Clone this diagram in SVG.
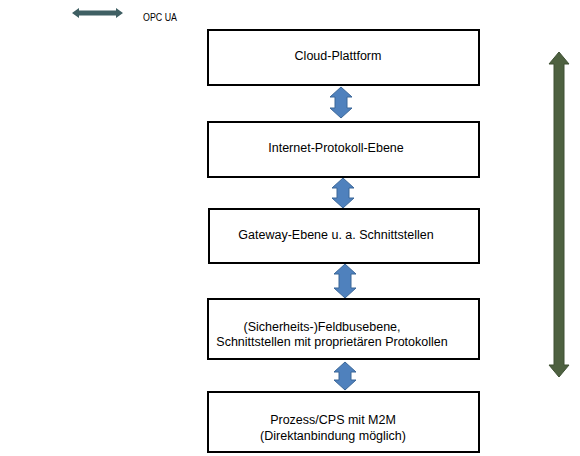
<svg xmlns="http://www.w3.org/2000/svg" width="580" height="456" viewBox="0 0 580 456">
<style>
.box{fill:#fff;stroke:#000;stroke-width:2}
.t{font-family:"Liberation Sans",Arial,sans-serif;font-size:12.5px;fill:#000;text-anchor:middle}
.ba{fill:#4f81bd;stroke:#3b6798;stroke-width:1}
</style>
<rect width="580" height="456" fill="#fff"/>
<g id="legend">
<path d="M72,13 L79,8 L79,10.5 L116,10.5 L116,8 L123,13 L116,18 L116,15.5 L79,15.5 L79,18 Z" fill="#3f5f63"/>
<text x="143" y="21" textLength="34" lengthAdjust="spacingAndGlyphs" style="font-family:'Liberation Sans',Arial,sans-serif;font-size:10px;fill:#000">OPC UA</text>
</g>
<g id="scale-arrow">
<path d="M559,52 L569,64 L564,64 L564,365 L569,365 L559,377 L549,365 L554,365 L554,64 L549,64 Z" fill="#4e6140" stroke="#3e5033" stroke-width="1"/>
</g>
<g id="connectors">
<path class="ba" d="M341,87 L352,97 L347,97 L347,108 L352,108 L341,118 L330,108 L335,108 L335,97 L330,97 Z"/>
<path class="ba" d="M343,178 L354,188 L349,188 L349,198 L354,198 L343,208 L332,198 L337,198 L337,188 L332,188 Z"/>
<path class="ba" d="M345,264 L356,274 L351,274 L351,288 L356,288 L345,298 L334,288 L339,288 L339,274 L334,274 Z"/>
<path class="ba" d="M345,362 L356,372 L351,372 L351,380 L356,380 L345,390 L334,380 L339,380 L339,372 L334,372 Z"/>
</g>
<g id="n1">
<rect class="box" x="208" y="30" width="271" height="55"/>
<text class="t" x="338" y="60">Cloud-Plattform</text>
</g>
<g id="n2">
<rect class="box" x="208" y="122" width="271" height="55"/>
<text class="t" x="336" y="152">Internet-Protokoll-Ebene</text>
</g>
<g id="n3">
<rect class="box" x="209" y="209" width="270" height="54"/>
<text class="t" x="336" y="239">Gateway-Ebene u. a. Schnittstellen</text>
</g>
<g id="n4">
<rect class="box" x="208" y="299" width="271" height="60"/>
<text class="t" x="322" y="331">(Sicherheits-)Feldbusebene,</text>
<text class="t" x="332" y="346">Schnittstellen mit proprietären Protokollen</text>
</g>
<g id="n5">
<rect class="box" x="208" y="392" width="271" height="60"/>
<text class="t" x="333" y="424">Prozess/CPS mit M2M</text>
<text class="t" x="333" y="440">(Direktanbindung möglich)</text>
</g>
</svg>
